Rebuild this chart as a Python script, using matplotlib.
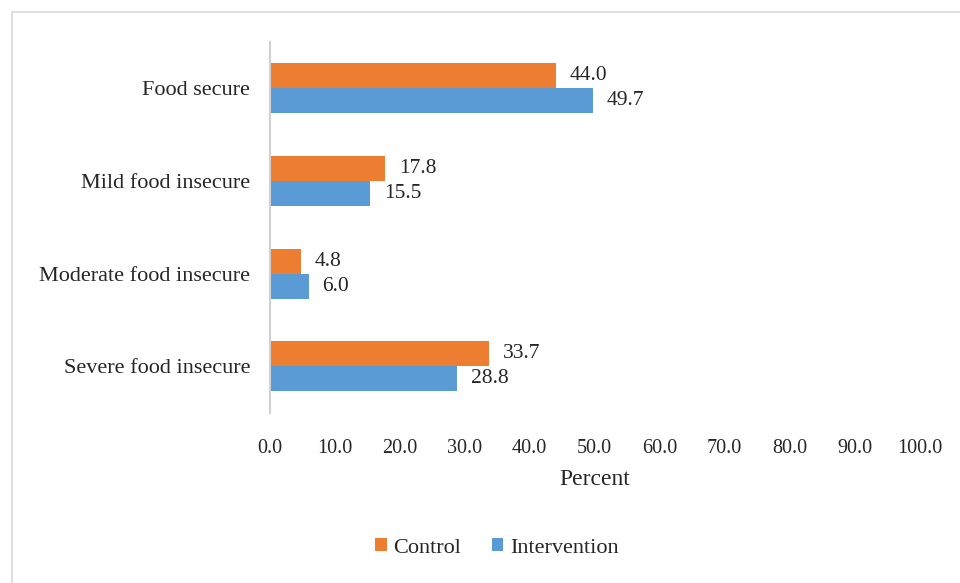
import matplotlib
matplotlib.use('Agg')
import matplotlib.pyplot as plt
from matplotlib.patches import Rectangle
import numpy as np

categories = ['Food secure', 'Mild food insecure', 'Moderate food insecure', 'Severe food insecure']
control = [44.0, 17.8, 4.8, 33.7]
intervention = [49.7, 15.5, 6.0, 28.8]

ORANGE = '#ED7D31'
BLUE = '#5B9BD5'
TXT = '#262626'
plt.rcParams['font.family'] = ['Liberation Serif', 'DejaVu Serif']

fig = plt.figure(figsize=(9.6, 5.83), dpi=100)
ax = fig.add_axes([0.281, 0.292, 0.677, 0.636])

# outer chart border
fig.patches.append(Rectangle((12 / 960, -0.1), 1.2, 1 - 12 / 583 + 0.1,
                             transform=fig.transFigure, fill=False,
                             edgecolor='#d9d9d9', linewidth=1.2))

y = np.arange(len(categories))
h = 0.27
ax.barh(y - h / 2, control, height=h, color=ORANGE, label='Control')
ax.barh(y + h / 2, intervention, height=h, color=BLUE, label='Intervention')

for yi, v in zip(y, control):
    ax.text(v + 2.1, yi - h / 2, f'{v:.1f}', va='center', ha='left', fontsize=15.5, color=TXT)
for yi, v in zip(y, intervention):
    ax.text(v + 2.1, yi + h / 2, f'{v:.1f}', va='center', ha='left', fontsize=15.5, color=TXT)

ax.set_ylim(len(categories) - 0.5, -0.5)
ax.set_xlim(0, 100)
ax.set_xticks(np.arange(0, 101, 10))
ax.set_xticklabels([f'{t:.1f}' for t in np.arange(0, 101, 10)])
ax.set_yticks(y)
ax.set_yticklabels(categories)
ax.tick_params(axis='both', length=0, colors=TXT)
ax.tick_params(axis='x', pad=19, labelsize=14.5)
ax.tick_params(axis='y', pad=14, labelsize=16)

for s in ['top', 'right', 'bottom']:
    ax.spines[s].set_visible(False)
ax.spines['left'].set_color('#d0d0d0')
ax.spines['left'].set_linewidth(1.5)

ax.set_xlabel('Percent', fontsize=17, color=TXT, labelpad=8)

fig.legend(loc='center', bbox_to_anchor=(497 / 960, 1 - 548 / 583), ncol=2, frameon=False,
           fontsize=16, handlelength=0.5, handleheight=0.5, handletextpad=0.3,
           columnspacing=1.4, labelcolor=TXT)

fig.savefig('out.png', dpi=100)
